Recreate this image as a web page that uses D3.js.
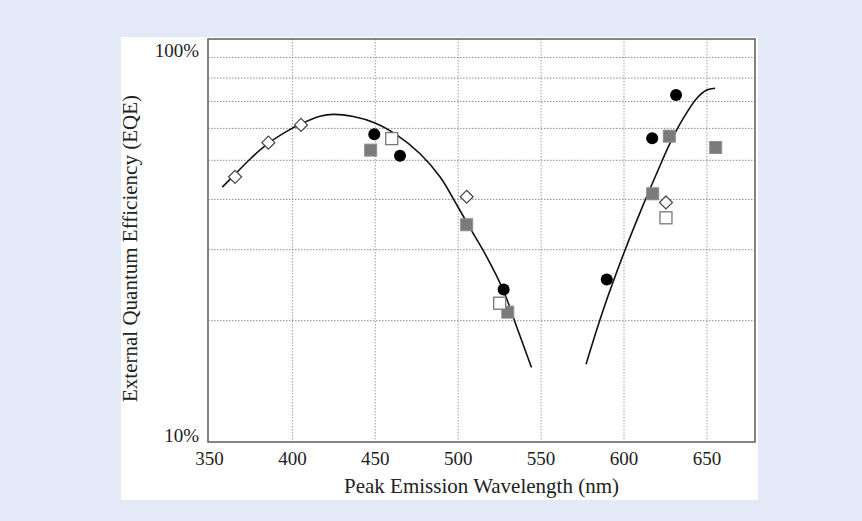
<html>
<head>
    <style>
        body { margin: 0; background: #e3e9f7; }
        svg { display: block; }
        text { font-family: "Liberation Serif", "DejaVu Serif", serif; fill: #222; }
    </style>
    <script src="https://cdn.jsdelivr.net/npm/d3@7"></script>
</head>

<body>
    <svg id="container" width="862" height="521">
        <rect x="121" y="37" width="637" height="463" fill="#ffffff"></rect>
        <g id="body"></g>
    </svg>
</body>
<script>
    // wavelength (nm) / EQE (%)
    let diamondNm = [365.4, 385.5, 405.2, 505.1, 625.3]
    let diamondEqe = [45.5, 55.3, 61.2, 40.6, 39.3]

    let circleNm = [449.4, 464.9, 527.4, 589.6, 617.0, 631.4]
    let circleEqe = [58.0, 51.3, 23.9, 25.3, 56.7, 72.6]

    let graySquareNm = [447.2, 505.1, 529.9, 617.3, 627.3, 655.3]
    let graySquareEqe = [53.0, 34.6, 21.0, 41.3, 57.4, 53.8]

    let openSquareNm = [459.9, 525.0, 625.3]
    let openSquareEqe = [56.6, 22.1, 36.0]

    let leftFitNm = [357.7, 365, 375, 385, 395, 405, 416.6, 424.7, 436.7, 449.8, 462.9, 477, 489, 499.7, 509.1, 517.2, 527.2, 535.3, 544.2]
    let leftFitEqe = [42.9, 46.0, 50.6, 54.9, 58.5, 61.5, 64.3, 65.0, 64.2, 61.9, 57.8, 51.9, 45.5, 38.4, 32.9, 28.8, 23.8, 19.3, 15.3]

    let rightFitNm = [577.1, 587.5, 600, 610.7, 619.7, 627.7, 635.8, 643.8, 649.9, 654.9]
    let rightFitEqe = [15.6, 21.3, 29.5, 38.0, 46.4, 55.1, 63.6, 71.2, 74.7, 75.5]

    let xTicks = [350, 400, 450, 500, 550, 600, 650]
    let yGrid = [20, 30, 40, 50, 60, 70, 80, 90]
    let yTickValues = [10, 100]
    let yTickLabels = ["10%", "100%"]

    let body = d3.select("#body")

    let plotLeft = 208, plotRight = 755, plotTop = 39, plotBottom = 442

    let x = d3.scaleLinear()
        .domain([349.1, 679])
        .range([plotLeft, plotRight])
    let y = d3.scaleLog()
        .domain([10, 100])
        .range([plotBottom, plotTop])

    // grid
    body.selectAll("line.vgrid")
        .data(xTicks.slice(1))
        .enter().append("line")
        .attr("x1", d => x(d)).attr("x2", d => x(d))
        .attr("y1", plotTop).attr("y2", plotBottom)
        .attr("stroke", "#a0a0a0")
        .attr("stroke-dasharray", "1.5,1.5")

    body.selectAll("line.hgrid")
        .data(yGrid)
        .enter().append("line")
        .attr("x1", plotLeft).attr("x2", plotRight)
        .attr("y1", d => y(d)).attr("y2", d => y(d))
        .attr("stroke", "#8c8c8c")
        .attr("stroke-dasharray", "1.5,1.5")

    // frame
    body.append("rect")
        .attr("x", plotLeft).attr("y", plotTop)
        .attr("width", plotRight - plotLeft).attr("height", plotBottom - plotTop)
        .attr("fill", "none")
        .attr("stroke", "#666")
        .attr("stroke-width", 1.6)

    // tick labels
    body.selectAll("text.xt")
        .data(xTicks)
        .enter().append("text")
        .attr("x", d => x(d))
        .attr("y", 465)
        .attr("text-anchor", "middle")
        .attr("font-size", 19)
        .text(d => d)

    body.selectAll("text.yt")
        .data(yTickValues)
        .enter().append("text")
        .attr("x", 199)
        .attr("y", d => y(d))
        .attr("dy", d => d == 100 ? 18 : 0)
        .attr("text-anchor", "end")
        .attr("font-size", 19)
        .text((d, i) => yTickLabels[i])

    body.append("text")
        .attr("x", (plotLeft + plotRight) / 2)
        .attr("y", 493)
        .attr("text-anchor", "middle")
        .attr("font-size", 21)
        .text("Peak Emission Wavelength (nm)")

    body.append("text")
        .attr("transform", "translate(137," + ((plotTop + plotBottom) / 2 + 8) + ") rotate(-90)")
        .attr("text-anchor", "middle")
        .attr("font-size", 21)
        .text("External Quantum Efficiency (EQE)")

    // fit curves
    let line = d3.line()
        .x(d => x(d[0]))
        .y(d => y(d[1]))
        .curve(d3.curveCatmullRom.alpha(0.5))

    body.append("path")
        .attr("d", line(d3.zip(leftFitNm, leftFitEqe)))
        .attr("fill", "none")
        .attr("stroke", "#111")
        .attr("stroke-width", 1.6)

    body.append("path")
        .attr("d", line(d3.zip(rightFitNm, rightFitEqe)))
        .attr("fill", "none")
        .attr("stroke", "#111")
        .attr("stroke-width", 1.6)

    // markers
    body.selectAll("rect.gray")
        .data(d3.zip(graySquareNm, graySquareEqe))
        .enter().append("rect")
        .attr("x", d => x(d[0]) - 6)
        .attr("y", d => y(d[1]) - 6)
        .attr("width", 12).attr("height", 12)
        .attr("fill", "#7b7b7b")
        .attr("stroke", "#8e8e8e")
        .attr("stroke-width", 1)

    body.selectAll("rect.open")
        .data(d3.zip(openSquareNm, openSquareEqe))
        .enter().append("rect")
        .attr("x", d => x(d[0]) - 6)
        .attr("y", d => y(d[1]) - 6)
        .attr("width", 12).attr("height", 12)
        .attr("fill", "#fff")
        .attr("stroke", "#777")
        .attr("stroke-width", 1.3)

    body.selectAll("path.diamond")
        .data(d3.zip(diamondNm, diamondEqe))
        .enter().append("path")
        .attr("transform", d => "translate(" + x(d[0]) + "," + y(d[1]) + ")")
        .attr("d", "M0,-6.5L6.5,0L0,6.5L-6.5,0Z")
        .attr("fill", "#fff")
        .attr("stroke", "#444")
        .attr("stroke-width", 1.2)

    body.selectAll("circle")
        .data(d3.zip(circleNm, circleEqe))
        .enter().append("circle")
        .attr("cx", d => x(d[0]))
        .attr("cy", d => y(d[1]))
        .attr("r", 6)
        .attr("fill", "#000")
</script>
</html>
